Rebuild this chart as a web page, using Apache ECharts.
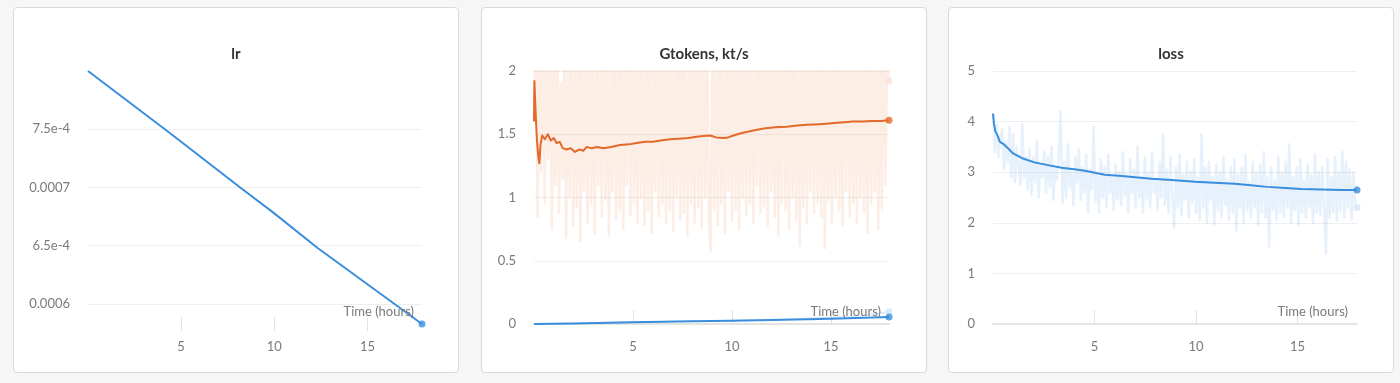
<!DOCTYPE html>
<html><head><meta charset="utf-8">
<script src="https://cdn.jsdelivr.net/npm/echarts@6/dist/echarts.min.js"></script>
<style>
html,body{margin:0;padding:0;background:#f6f6f6;width:1400px;height:383px;overflow:hidden}
.card{position:absolute;top:7px;width:444px;height:364px;border:1px solid #dadada;border-radius:4px;background:#fff}
</style></head><body>
<div class="card" id="c1" style="left:13px"></div>
<div class="card" id="c2" style="left:481px"></div>
<div class="card" id="c3" style="left:948px"></div>
<script>
// ---------- data ----------
const xTicks = [5, 10, 15];
const tEnd = 17.93;
const xName = 'Time (hours)';

const lrTime  = [0, 4.41, 8.17, 9.95, 12.31, 17.93];
const lrValue = [0.0008, 0.0007466, 0.0007, 0.0006784, 0.0006483, 0.0005828];

const gtokTime = [0,0.02,0.08,0.15,0.22,0.27,0.33,0.42,0.55,0.7,0.85,1.0,1.14,1.3,1.45,1.65,1.85,2.07,2.3,2.5,2.66,2.9,3.2,3.49,3.9,4.34,4.8,5.19,5.6,6.0,6.4,6.87,7.3,7.8,8.2,8.55,8.9,9.2,9.56,9.8,10.07,10.5,11.08,11.6,12.2,12.76,13.3,13.8,14.44,14.9,15.3,15.7,16.1,16.6,17.1,17.5,17.93];
const ktsSmooth = [1.6,1.92,1.68,1.45,1.32,1.27,1.42,1.49,1.46,1.5,1.45,1.47,1.43,1.44,1.39,1.38,1.39,1.36,1.38,1.37,1.40,1.39,1.40,1.39,1.40,1.415,1.42,1.43,1.44,1.44,1.45,1.46,1.465,1.47,1.48,1.486,1.49,1.475,1.47,1.475,1.49,1.51,1.53,1.545,1.555,1.56,1.57,1.575,1.58,1.585,1.59,1.595,1.6,1.6,1.605,1.605,1.61];
const ktsRaw = [
 1.62,2.5,0.85,2.3,1.2,2.6,0.95,2.2,1.3,2.4,
 0.75,2.1,1.1,2.5,0.88,1.9,1.15,2.3,0.68,2.2,
 1.0,2.4,0.78,2.0,0.92,2.6,0.65,2.2,1.05,2.3,
 0.8,2.5,0.95,2.1,0.72,2.4,1.1,2.2,0.85,2.6,
 0.98,2.3,0.7,2.1,1.05,2.5,0.82,2.2,0.9,2.4,
 0.75,2.2,1.1,2.6,0.86,2.3,0.95,2.1,0.8,2.5,
 1.0,2.2,0.78,2.4,0.9,2.3,0.72,2.1,1.05,2.5,
 0.85,2.3,0.95,2.2,0.8,2.6,0.9,2.1,0.74,2.4,
 1.0,2.3,0.82,2.5,0.88,2.2,0.7,2.4,0.95,2.1,
 0.8,2.5,0.92,2.3,0.76,2.2,1.0,2.4,0.85,0.58,
 2.3,0.9,2.1,0.78,2.5,0.95,2.2,0.72,2.4,1.05,
 2.3,0.82,2.6,0.9,2.2,0.75,2.4,1.0,2.1,0.86,
 2.5,0.95,2.3,0.8,2.2,1.1,2.6,0.88,2.4,0.93,
 2.2,0.78,2.5,1.05,2.3,0.85,2.4,0.7,2.2,0.95,
 2.5,0.9,2.3,0.75,2.6,1.0,2.2,0.82,2.4,0.62,
 2.3,0.92,2.5,0.8,2.2,1.05,2.4,0.88,2.6,0.95,
 2.3,0.85,2.5,0.6,2.2,0.98,2.4,0.8,2.3,1.0,
 2.6,0.9,2.2,0.78,2.5,1.05,2.3,0.85,2.4,0.95,
 2.2,0.8,2.5,1.0,2.3,0.88,2.4,0.72,2.6,0.95,
 2.2,1.05,2.4,0.75,2.3,0.9,2.5,1.1,2.2,1.92];
const gtokBlueTime   = [0, 2, 5, 8, 10, 12, 15, 17.93];
const gtokBlueSmooth = [0, 0.004, 0.013, 0.021, 0.026, 0.032, 0.041, 0.056];
const gtokBlueRawTime = [0, 4, 8, 12, 14, 16, 17, 17.93];
const gtokBlueRaw     = [0, 0.012, 0.022, 0.034, 0.045, 0.06, 0.075, 0.097];

const lossTime   = [0,0.05,0.12,0.2,0.34,0.5,0.67,0.99,1.48,2.07,2.7,3.38,4.0,4.53,5.5,6.2,7.0,7.8,8.6,9.3,9.95,10.9,11.9,12.7,13.5,14.4,15.2,16.2,17.2,17.93];
const lossSmooth = [4.16,3.95,3.8,3.75,3.6,3.56,3.5,3.37,3.27,3.19,3.14,3.09,3.06,3.03,2.95,2.93,2.9,2.87,2.85,2.83,2.81,2.79,2.77,2.74,2.71,2.69,2.67,2.66,2.65,2.65];
const lossRaw = [
 4.15,3.4,3.95,3.3,3.7,3.85,3.05,3.6,3.2,3.9,
 2.9,3.75,2.8,3.5,3.1,2.75,3.95,2.9,3.3,2.65,
 3.45,2.55,3.3,2.8,3.6,2.5,3.15,2.9,3.4,2.6,
 3.3,2.7,3.5,2.45,3.1,2.85,3.35,4.2,2.4,3.2,
 2.5,3.55,2.7,3.0,2.35,3.3,2.8,3.45,2.45,3.1,
 2.6,3.35,2.2,3.05,2.65,3.9,2.4,2.95,2.2,3.25,
 2.5,3.1,2.3,3.35,2.6,2.9,2.25,3.15,2.45,3.0,
 2.35,3.4,2.55,2.95,2.2,3.25,2.6,3.05,2.3,3.5,
 2.5,2.9,2.2,3.3,2.45,3.0,2.3,3.4,2.6,2.85,
 2.25,3.2,2.5,3.75,2.35,3.05,2.2,3.3,2.55,1.9,
 3.1,2.3,3.35,2.15,2.95,2.45,3.2,2.1,3.0,2.4,
 3.25,2.2,2.9,2.05,3.75,2.3,3.1,2.0,3.2,2.45,
 2.9,1.95,3.15,2.25,3.0,2.1,3.3,2.35,2.85,2.05,
 3.1,2.2,3.25,1.85,2.95,2.3,3.1,2.0,3.35,2.25,
 2.8,2.1,3.2,2.3,3.0,1.95,3.15,2.2,3.4,2.1,
 2.9,1.53,3.1,2.25,2.85,2.05,3.3,2.2,3.0,2.1,
 3.2,2.3,3.55,2.0,2.9,2.25,3.1,1.95,3.25,2.2,
 2.85,2.1,3.15,2.3,2.95,2.0,3.35,2.2,3.0,2.15,
 3.1,2.3,1.4,3.25,2.1,2.9,2.2,3.3,2.05,3.0,
 2.25,3.4,2.1,3.2,2.3,3.05,2.05,3.0,2.4,2.3];

// ---------- style ----------
const FONT = 'Lato';
const BLUE = '#3a8edd';
const ORANGE = '#e4692a';
const GRID_COLOR = '#efefef';
const LABEL_COLOR = '#7a7a7a';

function pairs(ts, vs) { return ts.map((t, i) => [t, vs[i]]); }
function rawPairs(vs) { const step = tEnd / (vs.length - 1); return vs.map((v, i) => [i * step, v]); }
function last(arr) { return arr[arr.length - 1]; }

function lineSeries(data, color, width, opacity, z) {
  return { type: 'line', data, showSymbol: false, silent: true, z,
    lineStyle: { color, width, opacity, join: 'round' }, animation: false };
}
function dotSeries(pt, color, z) {
  return { type: 'scatter', data: [pt], symbol: 'circle', symbolSize: 7, silent: true, z,
    itemStyle: { color }, animation: false };
}

function makeOption(o) {
  const xAxes = [{
    type: 'value', min: 0, max: tEnd, interval: 5, offset: 7,
    axisLine: { show: false },
    axisTick: { show: true, inside: true, length: 14, customValues: xTicks, lineStyle: { color: '#e2e2e2', width: 1 } },
    axisLabel: { customValues: xTicks, color: LABEL_COLOR, fontFamily: FONT, fontSize: 13, margin: 9 },
    splitLine: { show: false }
  }];
  if (o.zeroLine) {
    xAxes.push({ type: 'value', min: 0, max: tEnd, position: 'bottom', offset: 0,
      axisLine: { show: true, onZero: false, lineStyle: { color: '#e4e4e4', width: 2 } },
      axisTick: { show: false }, axisLabel: { show: false }, splitLine: { show: false } });
  }
  const y = Object.assign({
    type: 'value', axisLine: { show: false }, axisTick: { show: false },
    axisLabel: { color: LABEL_COLOR, fontFamily: FONT, fontSize: 13, margin: 18 },
    splitLine: { show: true, lineStyle: { color: GRID_COLOR, width: 1 } }
  }, o.y);
  return {
    animation: false,
    textStyle: { fontFamily: FONT },
    title: [
      { text: o.title, left: 'center', top: 34,
        textStyle: { fontFamily: FONT, fontSize: 15, fontWeight: 'bold', color: '#333' } },
      { text: xName, right: o.nameRight, top: 297, padding: 0,
        textStyle: { fontFamily: FONT, fontSize: 13, fontWeight: 'normal', color: LABEL_COLOR, lineHeight: 14 } }
    ],
    grid: { left: o.left, right: o.right, top: 63, bottom: 48, containLabel: false },
    xAxis: xAxes,
    yAxis: y,
    series: o.series
  };
}

// ---------- lr ----------
const lrData = pairs(lrTime, lrValue);
echarts.init(document.getElementById('c1')).setOption(makeOption({
  title: 'lr', left: 74, right: 36, nameRight: 44, zeroLine: false,
  y: { min: 0.0005828, max: 0.0008, minInterval: 0.00005, maxInterval: 0.00005,
    axisLabel: { color: LABEL_COLOR, fontFamily: FONT, fontSize: 13, margin: 18, showMinLabel: false, showMaxLabel: false,
      formatter: v => (Math.abs(v * 1e4 - Math.round(v * 1e4)) < 1e-9 ? v.toFixed(4) : v.toExponential(1)) },
    splitLine: { show: true, showMinLine: false, showMaxLine: false, lineStyle: { color: GRID_COLOR, width: 1 } } },
  series: [ lineSeries(lrData, BLUE, 2, 1, 3), dotSeries(last(lrData), BLUE, 4) ]
}));

// ---------- Gtokens, kt/s ----------
const ktsRawData = rawPairs(ktsRaw);
const ktsSmoothData = pairs(gtokTime, ktsSmooth);
const gBlueRawData = pairs(gtokBlueRawTime, gtokBlueRaw);
const gBlueData = pairs(gtokBlueTime, gtokBlueSmooth);
echarts.init(document.getElementById('c2')).setOption(makeOption({
  title: 'Gtokens, kt/s', left: 52, right: 37, nameRight: 45, zeroLine: true,
  y: { min: 0, max: 2, interval: 0.5 },
  series: [
    lineSeries(ktsRawData, ORANGE, 2.5, 0.12, 1),
    lineSeries(gBlueRawData, BLUE, 1.5, 0.2, 1),
    lineSeries(gBlueData, BLUE, 2, 1, 3),
    lineSeries(ktsSmoothData, ORANGE, 2, 1, 3),
    dotSeries(last(ktsRawData), '#f9e4da', 2),
    dotSeries(last(gBlueRawData), '#d5e6f7', 2),
    dotSeries(last(ktsSmoothData), ORANGE, 4),
    dotSeries(last(gBlueData), BLUE, 4)
  ]
}));

// ---------- loss ----------
const lossRawData = rawPairs(lossRaw);
const lossData = pairs(lossTime, lossSmooth);
echarts.init(document.getElementById('c3')).setOption(makeOption({
  title: 'loss', left: 44, right: 36, nameRight: 45, zeroLine: true,
  y: { min: 0, max: 5, interval: 1 },
  series: [
    lineSeries(lossRawData, BLUE, 2.5, 0.12, 1),
    lineSeries(lossData, BLUE, 2, 1, 3),
    dotSeries(last(lossRawData), '#d8e8f8', 2),
    dotSeries(last(lossData), BLUE, 4)
  ]
}));
</script>
</body></html>
